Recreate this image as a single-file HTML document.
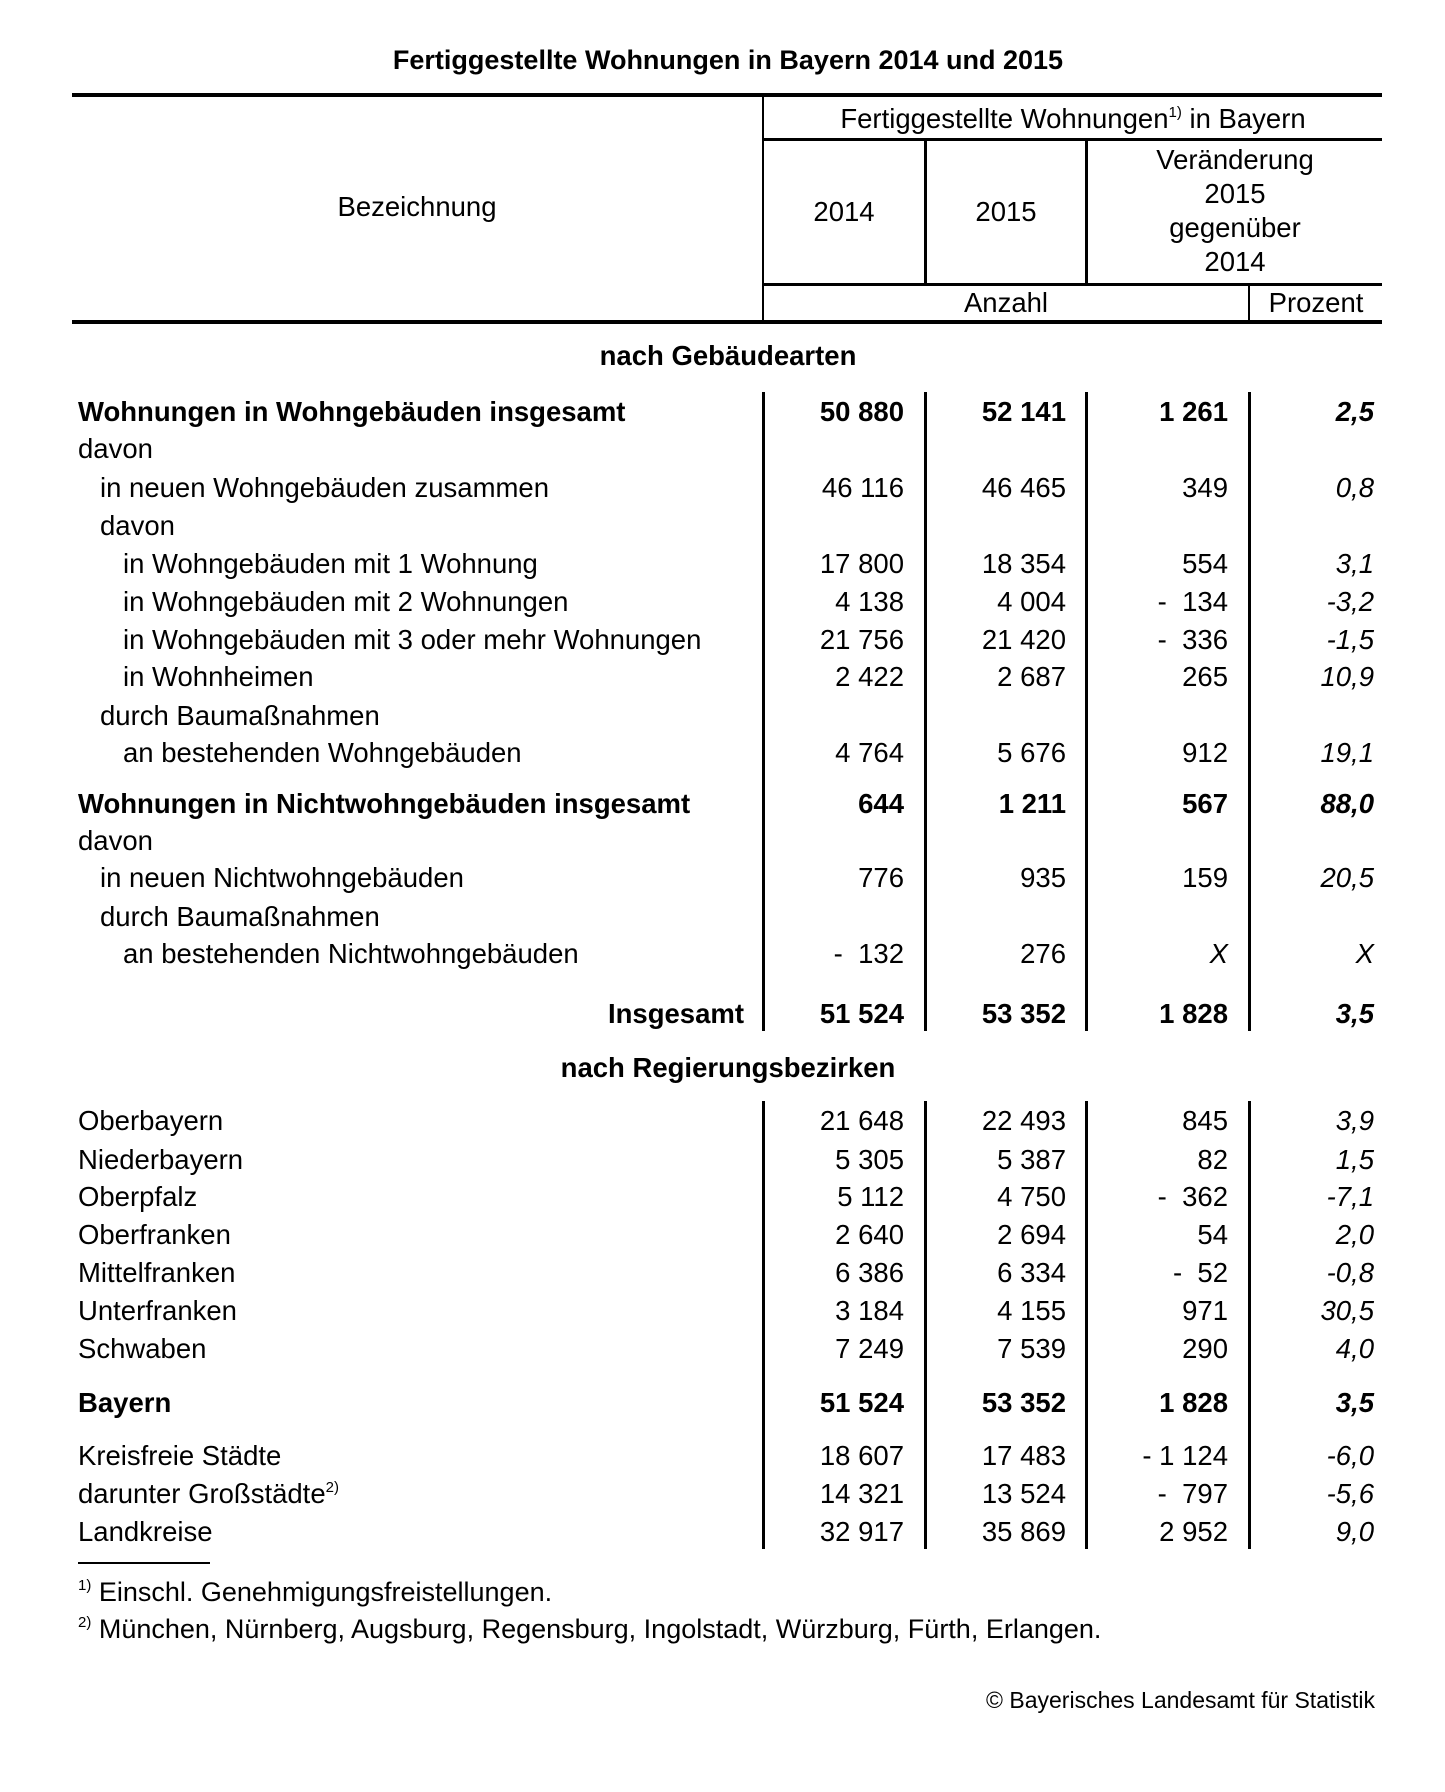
<!DOCTYPE html>
<html><head><meta charset="utf-8">
<style>
body{margin:0;background:#fff;}
#p{position:relative;width:1445px;height:1792px;overflow:hidden;background:#fff;font-family:"Liberation Sans",Arial,sans-serif;color:#000;font-size:27.5px;}
.a{position:absolute;white-space:pre;}
.l{position:absolute;background:#000;}
.r{position:absolute;left:0;width:1445px;height:38px;line-height:38px;white-space:pre;}
.r span{position:absolute;top:0;}
.c1{right:541px}.c2{right:379px}.c3{right:217px}.c4{right:71px;font-style:italic}
.t0{left:78px}.t1{left:100px}.t2{left:123px}
.b{font-weight:bold}
.ctr{position:absolute;text-align:center;white-space:pre;line-height:34px;}
sup{font-size:15px;vertical-align:0;position:relative;top:-11px;}
</style></head><body><div id="p">
<div class="a b" style="left:0;width:1456px;text-align:center;top:44px;font-size:27px;line-height:32px;">Fertiggestellte Wohnungen in Bayern 2014 und 2015</div>

<div class="l" style="left:72px;top:93px;width:1310px;height:4px"></div>
<div class="l" style="left:762px;top:95px;width:2px;height:227px"></div>
<div class="l" style="left:763px;top:138px;width:619px;height:3px"></div>
<div class="l" style="left:924px;top:140px;width:3px;height:144px"></div>
<div class="l" style="left:1085px;top:140px;width:3px;height:144px"></div>
<div class="l" style="left:763px;top:283px;width:619px;height:3px"></div>
<div class="l" style="left:1248px;top:284px;width:2px;height:38px"></div>
<div class="l" style="left:72px;top:320px;width:1310px;height:4px"></div>

<div class="ctr" style="left:764px;width:618px;top:102px">Fertiggestellte Wohnungen<sup>1)</sup> in Bayern</div>
<div class="ctr" style="left:72px;width:690px;top:190px">Bezeichnung</div>
<div class="ctr" style="left:764px;width:160px;top:195px">2014</div>
<div class="ctr" style="left:927px;width:158px;top:195px">2015</div>
<div class="ctr" style="left:1088px;width:294px;top:143px">Veränderung
2015
gegenüber
2014</div>
<div class="ctr" style="left:764px;width:484px;top:286px">Anzahl</div>
<div class="ctr" style="left:1250px;width:132px;top:286px">Prozent</div>

<div class="l" style="left:762px;top:392px;width:3px;height:639px"></div>
<div class="l" style="left:924px;top:392px;width:3px;height:639px"></div>
<div class="l" style="left:1085px;top:392px;width:3px;height:639px"></div>
<div class="l" style="left:1248px;top:392px;width:3px;height:639px"></div>
<div class="l" style="left:762px;top:1101px;width:3px;height:448px"></div>
<div class="l" style="left:924px;top:1101px;width:3px;height:448px"></div>
<div class="l" style="left:1085px;top:1101px;width:3px;height:448px"></div>
<div class="l" style="left:1248px;top:1101px;width:3px;height:448px"></div>

<div class="r b" style="top:337px"><span style="left:0;width:1456px;text-align:center">nach Gebäudearten</span></div>
<div class="r b" style="top:393px"><span class="t0">Wohnungen in Wohngebäuden insgesamt</span><span class="c1">50 880</span><span class="c2">52 141</span><span class="c3">1 261</span><span class="c4">2,5</span></div>
<div class="r" style="top:430px"><span class="t0">davon</span></div>
<div class="r" style="top:469px"><span class="t1">in neuen Wohngebäuden zusammen</span><span class="c1">46 116</span><span class="c2">46 465</span><span class="c3">349</span><span class="c4">0,8</span></div>
<div class="r" style="top:507px"><span class="t1">davon</span></div>
<div class="r" style="top:545px"><span class="t2">in Wohngebäuden mit 1 Wohnung</span><span class="c1">17 800</span><span class="c2">18 354</span><span class="c3">554</span><span class="c4">3,1</span></div>
<div class="r" style="top:583px"><span class="t2">in Wohngebäuden mit 2 Wohnungen</span><span class="c1">4 138</span><span class="c2">4 004</span><span class="c3">-  134</span><span class="c4">-3,2</span></div>
<div class="r" style="top:621px"><span class="t2">in Wohngebäuden mit 3 oder mehr Wohnungen</span><span class="c1">21 756</span><span class="c2">21 420</span><span class="c3">-  336</span><span class="c4">-1,5</span></div>
<div class="r" style="top:658px"><span class="t2">in Wohnheimen</span><span class="c1">2 422</span><span class="c2">2 687</span><span class="c3">265</span><span class="c4">10,9</span></div>
<div class="r" style="top:697px"><span class="t1">durch Baumaßnahmen</span></div>
<div class="r" style="top:734px"><span class="t2">an bestehenden Wohngebäuden</span><span class="c1">4 764</span><span class="c2">5 676</span><span class="c3">912</span><span class="c4">19,1</span></div>
<div class="r b" style="top:785px"><span class="t0">Wohnungen in Nichtwohngebäuden insgesamt</span><span class="c1">644</span><span class="c2">1 211</span><span class="c3">567</span><span class="c4">88,0</span></div>
<div class="r" style="top:822px"><span class="t0">davon</span></div>
<div class="r" style="top:859px"><span class="t1">in neuen Nichtwohngebäuden</span><span class="c1">776</span><span class="c2">935</span><span class="c3">159</span><span class="c4">20,5</span></div>
<div class="r" style="top:898px"><span class="t1">durch Baumaßnahmen</span></div>
<div class="r" style="top:935px"><span class="t2">an bestehenden Nichtwohngebäuden</span><span class="c1">-  132</span><span class="c2">276</span><span class="c3" style="font-style:italic">X</span><span class="c4">X</span></div>
<div class="r b" style="top:995px"><span style="right:701px">Insgesamt</span><span class="c1">51 524</span><span class="c2">53 352</span><span class="c3">1 828</span><span class="c4">3,5</span></div>
<div class="r b" style="top:1049px"><span style="left:0;width:1456px;text-align:center">nach Regierungsbezirken</span></div>
<div class="r" style="top:1102px"><span class="t0">Oberbayern</span><span class="c1">21 648</span><span class="c2">22 493</span><span class="c3">845</span><span class="c4">3,9</span></div>
<div class="r" style="top:1141px"><span class="t0">Niederbayern</span><span class="c1">5 305</span><span class="c2">5 387</span><span class="c3">82</span><span class="c4">1,5</span></div>
<div class="r" style="top:1178px"><span class="t0">Oberpfalz</span><span class="c1">5 112</span><span class="c2">4 750</span><span class="c3">-  362</span><span class="c4">-7,1</span></div>
<div class="r" style="top:1216px"><span class="t0">Oberfranken</span><span class="c1">2 640</span><span class="c2">2 694</span><span class="c3">54</span><span class="c4">2,0</span></div>
<div class="r" style="top:1254px"><span class="t0">Mittelfranken</span><span class="c1">6 386</span><span class="c2">6 334</span><span class="c3">-  52</span><span class="c4">-0,8</span></div>
<div class="r" style="top:1292px"><span class="t0">Unterfranken</span><span class="c1">3 184</span><span class="c2">4 155</span><span class="c3">971</span><span class="c4">30,5</span></div>
<div class="r" style="top:1330px"><span class="t0">Schwaben</span><span class="c1">7 249</span><span class="c2">7 539</span><span class="c3">290</span><span class="c4">4,0</span></div>
<div class="r b" style="top:1384px"><span class="t0">Bayern</span><span class="c1">51 524</span><span class="c2">53 352</span><span class="c3">1 828</span><span class="c4">3,5</span></div>
<div class="r" style="top:1437px"><span class="t0">Kreisfreie Städte</span><span class="c1">18 607</span><span class="c2">17 483</span><span class="c3">- 1 124</span><span class="c4">-6,0</span></div>
<div class="r" style="top:1475px"><span class="t0">darunter Großstädte<sup>2)</sup></span><span class="c1">14 321</span><span class="c2">13 524</span><span class="c3">-  797</span><span class="c4">-5,6</span></div>
<div class="r" style="top:1513px"><span class="t0">Landkreise</span><span class="c1">32 917</span><span class="c2">35 869</span><span class="c3">2 952</span><span class="c4">9,0</span></div>

<div class="l" style="left:78px;top:1562px;width:132px;height:2px"></div>
<div class="r" style="top:1573px;font-size:27px"><span class="t0"><sup>1)</sup> Einschl. Genehmigungsfreistellungen.</span></div>
<div class="r" style="top:1610px;font-size:27px"><span class="t0"><sup>2)</sup> München, Nürnberg, Augsburg, Regensburg, Ingolstadt, Würzburg, Fürth, Erlangen.</span></div>
<div class="r" style="top:1681px;font-size:23px"><span style="right:70px">© Bayerisches Landesamt für Statistik</span></div>
</div></body></html>
